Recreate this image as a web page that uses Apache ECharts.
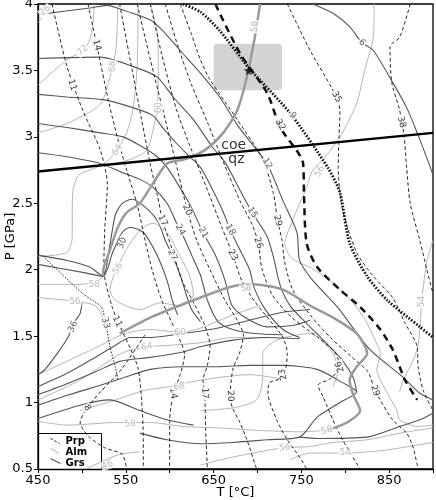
<!DOCTYPE html>
<html><head><meta charset="utf-8">
<script src="https://cdn.jsdelivr.net/npm/echarts@6/dist/echarts.min.js"></script>
<style>html,body{margin:0;padding:0;background:#fff}#c{width:436px;height:500px}</style>
</head><body><div id="c"></div>
<script>
// ---------- axis ticks ----------
const xTickLabels = [450, 550, 650, 750, 850];
const yTickLabels = [0.5, 1, 1.5, 2, 2.5, 3, 3.5, 4];

// ---------- Prp isopleths (dashed) [T degC, P GPa] ----------
const prp8  = [[572,1.51],[545,1.25],[521,1.08],[506,0.96],[498,0.85],[507,0.75],[526,0.66],[546,0.61],[551,0.50]];
const prp11 = [[466,4.0],[483,3.53],[501,3.20],[521,2.90],[529,2.64],[526,2.30],[525,2.00],[534,1.73],[543,1.58],[555,1.41],[564,1.26],[568,1.02],[570,0.72],[570,0.50]];
const prp14 = [[507,4.0],[517,3.69],[530,3.28],[541,2.98],[551,2.75],[563,2.49],[572,2.22],[580,2.00],[591,1.77],[606,1.55],[617,1.36],[612,1.21],[604,1.06],[600,0.87],[600,0.50]];
const prp17 = [[543,4.0],[555,3.58],[568,3.13],[578,2.79],[586,2.56],[592,2.37],[603,2.15],[614,1.92],[629,1.73],[640,1.58],[646,1.43],[643,1.28],[638,1.17],[640,1.06],[641,0.79],[643,0.50]];
const prp20 = [[563,4.0],[578,3.58],[595,3.13],[609,2.75],[620,2.45],[631,2.22],[646,2.00],[663,1.77],[677,1.62],[684,1.51],[680,1.38],[672,1.25],[669,1.06],[671,0.97],[680,0.85],[688,0.72],[699,0.50]];
const prp23 = [[578,4.0],[591,3.62],[608,3.20],[625,2.90],[643,2.60],[660,2.31],[672,2.11],[682,1.92],[697,1.76],[714,1.62],[729,1.49],[734,1.37],[729,1.19],[714,1.15],[712,1.07],[722,0.87],[734,0.72],[748,0.59],[756,0.50]];
const prp26 = [[595,4.0],[609,3.69],[625,3.39],[643,3.11],[660,2.83],[680,2.52],[694,2.34],[701,2.20],[705,2.01],[717,1.81],[739,1.64],[769,1.49],[788,1.38],[794,1.27],[783,1.18],[769,1.13],[775,1.04],[786,0.87],[797,0.72],[817,0.50]];
const prp29 = [[612,4.0],[625,3.77],[635,3.58],[646,3.43],[677,3.13],[706,2.83],[718,2.58],[723,2.37],[728,2.22],[731,2.06],[740,1.85],[760,1.66],[783,1.49],[808,1.34],[826,1.23],[834,1.09],[854,0.87],[870,0.77],[877,0.67],[883,0.50]];
const prp35 = [[734,4.0],[760,3.65],[786,3.35],[794,3.20],[793,3.01],[792,2.77],[797,2.45],[813,2.13],[832,1.95],[854,1.79],[868,1.60],[882,1.42],[883,1.27],[889,1.09],[900,0.94]];
const prp38 = [[874,4.0],[862,3.75],[851,3.68],[853,3.41],[862,3.20],[867,3.01],[870,2.77],[874,2.50],[885,2.22],[893,2.00],[900,1.82]];
const prp32Measured = [[652,4.0],[680,3.63],[711,3.33],[726,3.07],[752,2.80],[753,2.58],[756,2.20],[768,2.02],[794,1.85],[817,1.72],[840,1.55],[854,1.40],[862,1.27],[868,1.17],[882,1.02]];

// ---------- Grs isopleths (dark solid) ----------
const grs6  = [[763,4.0],[786,3.93],[805,3.83],[819,3.71],[832,3.65],[854,3.41],[870,3.22],[882,3.03],[897,2.77],[900,2.71]];
const grs12 = [[450,3.92],[509,3.97],[529,3.99],[540,3.97],[578,3.88],[592,3.80],[612,3.65],[635,3.48],[657,3.30],[677,3.09],[697,2.92],[711,2.80],[729,2.52],[745,2.28],[748,2.07],[763,1.92],[791,1.72],[828,1.40],[866,1.19],[885,1.07],[900,1.02]];
const grs15 = [[450,3.59],[521,3.60],[558,3.53],[586,3.45],[604,3.30],[627,3.13],[649,2.92],[663,2.81],[684,2.55],[694,2.43],[711,2.25],[718,2.10],[726,1.88],[737,1.73],[754,1.61],[775,1.47],[794,1.34],[809,1.19],[813,1.08]];
const grs18 = [[450,3.32],[483,3.30],[524,3.28],[558,3.22],[581,3.16],[592,3.07],[608,2.95],[623,2.85],[635,2.77],[646,2.64],[660,2.45],[669,2.30],[680,2.15],[691,2.00],[697,1.85],[709,1.70],[729,1.55],[748,1.49]];
const grs21 = [[450,3.10],[483,3.07],[521,3.03],[547,3.00],[570,2.92],[586,2.85],[597,2.77],[606,2.68],[623,2.49],[638,2.28],[652,2.11],[663,1.92],[671,1.73],[686,1.64],[711,1.57],[740,1.58],[760,1.62]];
const grs24 = [[450,2.88],[483,2.85],[521,2.80],[543,2.74],[566,2.68],[581,2.62],[597,2.50],[608,2.35],[615,2.26],[625,2.11],[635,1.96],[643,1.77],[655,1.61],[672,1.55],[697,1.52],[729,1.51]];
const grs27 = [[450,2.11],[483,2.07],[509,2.02],[524,1.95],[532,2.19],[538,2.41],[546,2.50],[557,2.53],[574,2.46],[587,2.36],[595,2.22],[603,2.11],[612,1.96],[619,1.81],[625,1.70],[635,1.61]];
const grs30 = [[450,2.04],[501,1.98],[524,1.95],[535,2.13],[546,2.28],[555,2.32],[570,2.28],[581,2.17],[589,2.06],[597,1.92],[603,1.77],[609,1.66]];
const grs33 = [[456,2.10],[501,1.82],[522,1.72],[527,1.60],[532,1.42],[538,1.27],[541,1.17]];
const grs36 = [[450,1.21],[458,1.25],[473,1.38],[484,1.49],[492,1.61],[498,1.67],[500,1.75]];
const grsBand1 = [[450,1.12],[486,1.23],[515,1.34],[538,1.43],[555,1.49],[578,1.49],[615,1.52],[654,1.56],[691,1.62],[729,1.68],[760,1.70]];
const grsBand2 = [[450,1.06],[486,1.15],[515,1.23],[543,1.31],[578,1.34],[615,1.38],[635,1.42],[672,1.47],[711,1.49],[748,1.48]];
const grsBand3 = [[450,0.98],[486,1.06],[521,1.13],[549,1.19],[578,1.25],[615,1.27],[654,1.27],[691,1.28],[729,1.28],[768,1.25],[797,1.15],[813,1.08],[794,1.00],[768,0.89],[748,0.74],[711,0.72],[672,0.70],[635,0.69],[597,0.72],[566,0.77]];
const grsBand4 = [[748,0.74],[768,0.73],[825,0.74],[862,0.82],[885,0.87],[900,0.92]];
const grsBand5 = [[450,0.88],[498,0.98],[532,1.02],[566,0.94],[597,0.87],[627,0.83]];
const grs9Measured = [[615,4.0],[635,3.94],[657,3.80],[690,3.52],[737,3.18],[780,2.77],[794,2.58],[805,2.20],[825,1.95],[848,1.77],[885,1.57],[900,1.49]];

// ---------- Alm isopleths (light grey) ----------
const alm76 = [[450,3.86],[460,3.94],[469,4.0]];
const alm72 = [[450,3.39],[483,3.58],[501,3.65],[509,3.73],[513,3.88],[514,4.0]];
const alm68 = [[450,3.03],[483,3.10],[517,3.22],[524,3.28],[532,3.45],[538,3.62],[540,3.78],[541,4.0]];
const alm64 = [[564,4.0],[563,3.53],[558,3.20],[551,3.03],[540,2.90],[526,2.80],[509,2.75],[496,2.71],[490,2.60],[489,2.41],[489,2.25],[483,2.13],[450,2.10]];
const alm60 = [[578,4.0],[586,3.78],[587,3.53],[586,3.22],[581,3.05],[574,2.90],[555,2.83],[532,2.79]];
const alm58Left = [[450,1.89],[498,1.89],[518,1.91],[524,1.95]];
const alm56Left = [[450,1.79],[496,1.76],[515,1.73],[522,1.67],[526,1.60]];
const alm56Loop = [[540,2.02],[555,2.20],[570,2.32],[581,2.35],[597,2.28],[612,2.10],[623,1.95],[627,1.81],[612,1.73],[589,1.75],[566,1.70],[538,1.77],[532,1.85],[540,2.02]];
const alm56Mid = [[833,4.0],[832,3.75],[822,3.50],[813,3.25],[794,3.00],[775,2.83],[763,2.75],[756,2.62],[745,2.45],[737,2.32],[731,2.20],[737,2.10],[748,2.05],[760,2.02],[786,1.90],[809,1.75],[823,1.62],[834,1.47],[840,1.37],[836,1.25],[848,1.07],[859,0.94],[862,0.87],[882,0.82],[900,0.83]];
const alm54Right = [[900,2.22],[893,2.07],[889,1.87],[887,1.76],[885,1.55],[882,1.40],[874,1.27],[866,1.17],[862,1.08]];
const alm60Band = [[450,1.21],[486,1.32],[521,1.43],[549,1.52],[578,1.55],[611,1.53],[635,1.56],[672,1.66],[703,1.73]];
const alm64Band = [[450,1.02],[498,1.17],[545,1.37],[573,1.42],[598,1.43],[635,1.45],[672,1.49],[711,1.49]];
const alm68Band = [[498,0.94],[543,1.03],[570,1.09],[600,1.12],[620,1.15],[657,1.19],[691,1.21],[726,1.18]];
const alm58Low = [[450,0.86],[483,0.83],[540,0.85],[578,0.85],[615,0.82],[654,0.81],[703,0.79],[748,0.78],[779,0.79]];
const alm60Mid = [[635,0.94],[672,0.96],[699,1.02],[706,1.19],[706,1.37],[722,1.47],[760,1.52],[786,1.37],[791,1.22],[786,1.12]];
const alm56Low = [[635,0.53],[672,0.59],[711,0.64],[731,0.66],[760,0.67],[786,0.70],[825,0.72],[862,0.77],[900,0.81]];
const alm54Low = [[737,0.57],[760,0.62],[800,0.62],[843,0.64],[882,0.68],[900,0.70]];
const alm46 = [[504,0.50],[521,0.55],[543,0.61],[566,0.63]];
const alm58MeasuredA = [[703,4.0],[697,3.75],[688,3.45],[677,3.20],[661,3.03],[640,2.90],[617,2.83],[597,2.80],[581,2.65],[566,2.50],[551,2.43],[541,2.32],[532,2.15],[524,1.98],[524,1.95]];
const alm58MeasuredB = [[543,1.52],[578,1.64],[627,1.77],[669,1.87],[695,1.89],[729,1.85],[760,1.73],[786,1.64],[813,1.52],[825,1.37],[813,1.27],[805,1.17],[809,1.06],[817,0.94],[802,0.85],[779,0.79]];

// ---------- reaction coe = qz, measured garnet, contour labels ----------
const coeQz = [[450,2.74],[900,3.03]];
const rectBox = [650, 728, 3.35, 3.70];
const starPoint = [690, 3.50];
const phaseLabels = [[673,2.935,'coe'],[676,2.83,'qz']];
const prpLabels = [[489,3.39,'11',-72],[517,3.69,'14',-75],[592,2.37,'17',-65],[620,2.45,'20',-65],[672,2.11,'23',-62],[701,2.20,'26',-70],[723,2.37,'29',-75],[726,3.09,'32',-60],[790,3.30,'35',-62],[864,3.11,'38',-75],[540,1.61,'11',-65],[506,0.96,'8',-60],[604,1.07,'14',-80],[640,1.07,'17',-88],[669,1.05,'20',-88],[729,1.21,'23',105],[794,1.27,'26',110],[834,1.09,'29',-72]];
const grsLabels = [[819,3.71,'6',-45],[740,3.16,'9',-55],[711,2.80,'12',-60],[694,2.43,'15',-58],[669,2.30,'18',-60],[638,2.28,'21',-60],[612,2.30,'24',-60],[603,2.11,'27',-65],[546,2.20,'30',68],[527,1.60,'33',-75],[490,1.57,'36',65]];
const almLabels = [[458,3.95,'76',40],[501,3.65,'72',40],[535,3.53,'68',85],[540,2.90,'64',55],[587,3.22,'60',90],[697,3.83,'58',85],[771,2.74,'56',60],[541,2.01,'56',60],[514,1.89,'58',0],[492,1.76,'56',0],[687,1.86,'58',8],[612,1.53,'60',0],[574,1.42,'64',8],[611,1.12,'68',12],[555,0.84,'58',3],[529,0.53,'46',20],[779,0.79,'58',15],[731,0.66,'56',3],[800,0.62,'54',0],[887,1.76,'54',90]];

// ---------- build ----------
const FONT = 'DejaVu Sans';
const chart = echarts.init(document.getElementById('c'), null, {renderer: 'canvas'});
function iso(data, color, width, type, z) {
  return {type: 'line', data: data, symbol: 'none', silent: true, animation: false, smooth: 0.25,
    z: z || 2, lineStyle: {color: color, width: width, type: type || 'solid'}};
}
function labels(arr, color, z) {
  return {type: 'scatter', silent: true, animation: false, symbolSize: 1, z: z || 10,
    itemStyle: {color: 'rgba(0,0,0,0)'},
    label: {show: true, position: 'inside', color: color, fontSize: 9, fontFamily: FONT,
      backgroundColor: '#fff', padding: [0, 1]},
    data: arr.map(a => ({value: [a[0], a[1]], label: {formatter: a[2], rotate: a[3]}}))};
}
const ALM = '#b5b5b5', GRS = '#555', PRP = '#111';
const series = [];
series.push({type: 'custom', silent: true, animation: false, z: 1,
  encode: {x: [0, 1], y: [2, 3]},
  renderItem: (params, api) => {
    const p1 = api.coord([api.value(0), api.value(3)]);
    const p2 = api.coord([api.value(1), api.value(2)]);
    return {type: 'rect', shape: {x: p1[0], y: p1[1], width: p2[0] - p1[0], height: p2[1] - p1[1], r: 4},
      style: {fill: '#d3d3d3'}};
  },
  data: [rectBox]});
[alm76, alm72, alm68, alm64, alm60, alm58Left, alm56Left, alm56Loop, alm56Mid, alm54Right, alm60Band,
 alm64Band, alm68Band, alm58Low, alm60Mid, alm56Low, alm54Low, alm46].forEach(d => series.push(iso(d, ALM, 1)));
[grs6, grs12, grs15, grs18, grs21, grs24, grs27, grs30, grs36, grsBand1, grsBand2, grsBand3, grsBand4, grsBand5]
  .forEach(d => series.push(iso(d, GRS, 1.1)));
series.push(iso(grs33, '#222', 1, [1.5, 1.5]));
[prp8, prp11, prp14, prp17, prp20, prp23, prp26, prp29, prp35, prp38].forEach(d => series.push(iso(d, PRP, 0.9, [3.5, 2.5])));
series.push(iso(alm58MeasuredA, '#9a9a9a', 2.5, 'solid', 4));
series.push(iso(alm58MeasuredB, '#9a9a9a', 2.5, 'solid', 4));
series.push(iso(prp32Measured, '#111', 2.5, [7, 5], 5));
series.push(iso(grs9Measured, '#111', 2.8, [1.6, 1.6], 5));
series.push({type: 'line', data: coeQz, symbol: 'none', silent: true, animation: false, z: 6,
  lineStyle: {color: '#000', width: 2.5}});
series.push({type: 'scatter', data: [starPoint], silent: true, animation: false, z: 7, symbolSize: 10,
  symbol: 'path://M50,0 L61,35 L98,35 L68,57 L79,91 L50,70 L21,91 L32,57 L2,35 L39,35 Z',
  itemStyle: {color: '#000'}});
series.push(labels(prpLabels, '#000'));
series.push(labels(grsLabels, '#333'));
series.push(labels(almLabels, '#aaa'));
series.push({type: 'scatter', silent: true, animation: false, symbolSize: 1, z: 11,
  itemStyle: {color: 'rgba(0,0,0,0)'},
  label: {show: true, position: 'inside', color: '#000', fontSize: 14, fontFamily: FONT, formatter: p => p.data[2]},
  data: phaseLabels.map(a => [a[0], a[1], a[2]])});

chart.setOption({
  animation: false,
  backgroundColor: '#fff',
  grid: {left: 38, right: 3, top: 4, bottom: 31, containLabel: false, outerBoundsMode: 'none',
    show: true, borderColor: '#000', borderWidth: 1.3, backgroundColor: 'transparent'},
  xAxis: {type: 'value', min: 450, max: 900, interval: 50,
    name: 'T [°C]', nameLocation: 'middle', nameGap: 17, nameMoveOverlap: false,
    nameTextStyle: {fontSize: 13, color: '#000', fontFamily: FONT},
    axisLine: {show: true, onZero: false, lineStyle: {color: '#000', width: 1.3}},
    axisTick: {show: true, inside: false, length: 4, lineStyle: {color: '#000'}},
    axisLabel: {formatter: v => xTickLabels.includes(v) ? String(v) : '', color: '#000', fontSize: 13, fontFamily: FONT, margin: 5},
    splitLine: {show: false}},
  yAxis: {type: 'value', min: 0.5, max: 4, interval: 0.5,
    name: 'P [GPa]', nameLocation: 'middle', nameGap: 21, nameRotate: 90, nameMoveOverlap: false,
    nameTextStyle: {fontSize: 13, color: '#000', fontFamily: FONT},
    axisLine: {show: true, onZero: false, lineStyle: {color: '#000', width: 1.3}},
    axisTick: {show: true, inside: false, length: 4, lineStyle: {color: '#000'}},
    axisLabel: {formatter: v => yTickLabels.includes(v) ? String(v) : '', color: '#000', fontSize: 13, fontFamily: FONT, margin: 5},
    splitLine: {show: false}},
  graphic: [{type: 'group', left: 38, top: 433, z: 100, children: [
    {type: 'rect', shape: {x: 0, y: 0, width: 63, height: 36}, style: {fill: '#fff', stroke: '#000', lineWidth: 1}},
    {type: 'line', shape: {x1: 12, y1: 5, x2: 21, y2: 10}, style: {stroke: '#000', lineWidth: 0.9, lineDash: [2.5, 2]}},
    {type: 'line', shape: {x1: 12, y1: 15, x2: 21, y2: 20}, style: {stroke: ALM, lineWidth: 1}},
    {type: 'line', shape: {x1: 12, y1: 25, x2: 22, y2: 30}, style: {stroke: GRS, lineWidth: 1.1}},
    {type: 'text', x: 27, y: 8, style: {text: 'Prp', font: 'bold 10px "DejaVu Sans"', fill: '#000', verticalAlign: 'middle'}},
    {type: 'text', x: 27, y: 19, style: {text: 'Alm', font: 'bold 10px "DejaVu Sans"', fill: '#000', verticalAlign: 'middle'}},
    {type: 'text', x: 27, y: 30, style: {text: 'Grs', font: 'bold 10px "DejaVu Sans"', fill: '#000', verticalAlign: 'middle'}}
  ]}],
  series: series
});
</script>
</body></html>
